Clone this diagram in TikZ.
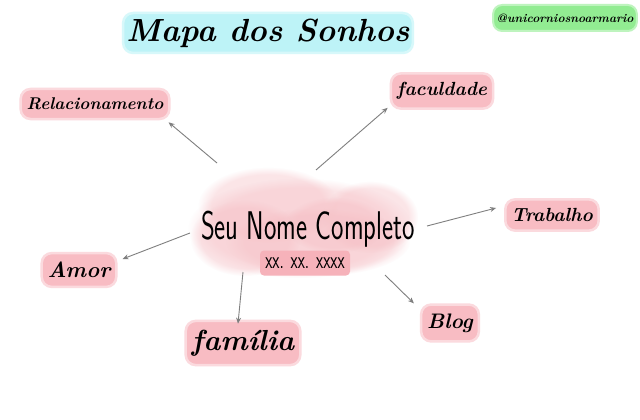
\documentclass[tikz,border=0pt]{standalone}
\usetikzlibrary{arrows.meta,fadings}
\definecolor{glowpink}{HTML}{F8BCC3}
\definecolor{datepink}{HTML}{F6B2BA}
\definecolor{glowcyan}{HTML}{BDF3F7}
\definecolor{glowgreen}{HTML}{92EC92}
\definecolor{blobpink}{HTML}{F6BEC4}
\definecolor{arrowgray}{HTML}{7F7F7F}
\tikzset{
  glow/.style={fill=glowpink, draw=glowpink!55, line width=2.5pt, rounded corners=10pt, inner xsep=6pt, inner ysep=9pt},
  link/.style={draw=arrowgray, line width=0.9pt, -{Stealth[length=6pt,width=5pt]}},
  blob/.style={fill=blobpink, path fading=circle with fuzzy edge 20 percent, fill opacity=0.4}
}
\begin{document}
\begin{tikzpicture}[x=1pt,y=-1pt]
\useasboundingbox (0,0) rectangle (640,420);
\fill[white] (0,0) rectangle (640,420);

% watercolor blob
\fill[blob] (300,228) ellipse [x radius=112, y radius=50];
\fill[blob] (268,205) ellipse [x radius=70, y radius=38];
\fill[blob] (370,217) ellipse [x radius=48, y radius=36];
\fill[blob] (318,242) ellipse [x radius=92, y radius=34];
\fill[blob] (245,238) ellipse [x radius=55, y radius=38];
\fill[blob] (335,225) ellipse [x radius=50, y radius=28];

% title
\node[fill=glowcyan, draw=glowcyan!60, line width=2.5pt, rounded corners=10pt, minimum width=272pt, minimum height=40pt, font=\bfseries\itshape\fontsize{32}{32}\selectfont] (title) at (268,33) {Mapa dos Sonhos};

% tag
\node[fill=glowgreen, draw=glowgreen!60, line width=2pt, rounded corners=9pt, minimum width=142pt, minimum height=26pt, font=\bfseries\itshape\fontsize{12}{12}\selectfont] (tag) at (565,18) {@unicorniosnoarmario};

% center
\node (name) at (308,229) {\scalebox{0.66}[1]{\sffamily\fontsize{40}{40}\selectfont Seu Nome Completo}};
\node[fill=datepink, rounded corners=4pt, minimum width=90pt, minimum height=25pt, inner sep=0pt] (date) at (305,263) {\scalebox{0.66}[1]{\sffamily\fontsize{25}{25}\selectfont xx. xx. xxxx}};

% labels
\node[glow, font=\bfseries\itshape\fontsize{17}{17}\selectfont] (rel) at (95,104) {Relacionamento};
\node[glow, font=\bfseries\itshape\fontsize{19}{19}\selectfont] (fac) at (442,91) {faculdade};
\node[glow, font=\bfseries\itshape\fontsize{19}{19}\selectfont] (trab) at (552,215) {Trabalho};
\node[glow, font=\bfseries\itshape\fontsize{22}{22}\selectfont] (amor) at (79,270) {Amor};
\node[glow, font=\bfseries\itshape\fontsize{29}{29}\selectfont] (fam) at (243,343) {família};
\node[glow, font=\bfseries\itshape\fontsize{21}{21}\selectfont] (blog) at (450,323) {Blog};

% connector starts
\coordinate (s1) at (217,163);
\coordinate (s2) at (316,170);
\coordinate (s3) at (427,226);
\coordinate (s4) at (190,233);
\coordinate (s5) at (243,272);
\coordinate (s6) at (385,275);

\draw[link] (s1) -- ([shift={(-2,2)}]rel.south east);
\draw[link] (s2) -- ([shift={(-2,-2)}]fac.south west);
\draw[link] (s3) -- ([shift={(-8,-7)}]trab.west);
\draw[link] (s4) -- ([shift={(5,-11)}]amor.east);
\draw[link] (s5) -- ([shift={(-5,4)}]fam.north);
\draw[link] (s6) -- ([shift={(-6,0)}]blog.north west);
\end{tikzpicture}
\end{document}
